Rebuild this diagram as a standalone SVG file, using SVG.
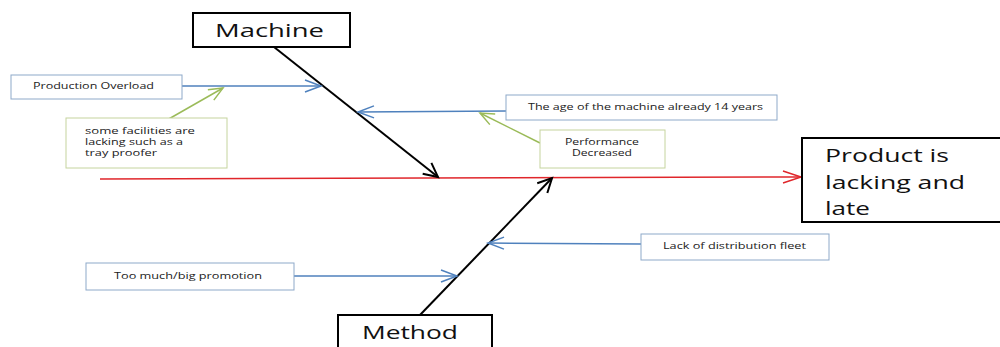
<svg xmlns="http://www.w3.org/2000/svg" width="1000" height="347" viewBox="0 0 1000 347">
  <style>
    .big { font-family: "Open Sans", "Liberation Sans", sans-serif; font-size: 19px; fill: #111; }
    .small { font-family: "Open Sans", "Liberation Sans", sans-serif; font-size: 8.5px; fill: #222; }
    .hbox { fill: #fff; stroke: #000; stroke-width: 2; }
    .cbox { fill: #fff; stroke: #8ea9c9; stroke-width: 1; }
    .gbox { fill: #fff; stroke: #c5d49e; stroke-width: 1; }
    .bone { stroke: #000; stroke-width: 2; fill: none; }
    .cause { stroke: #4f81bd; stroke-width: 1.5; fill: none; }
    .sub { stroke: #9bbb59; stroke-width: 1.5; fill: none; }
    .spine { stroke: #e0262b; stroke-width: 1.5; fill: none; }
  </style>
  <defs>
    <marker id="mBlack" markerUnits="userSpaceOnUse" markerWidth="20" markerHeight="20" refX="16" refY="8" orient="auto">
      <path d="M2,1 L16,8 L2,15" fill="none" stroke="#000" stroke-width="2"/>
    </marker>
    <marker id="mBlue" markerUnits="userSpaceOnUse" markerWidth="22" markerHeight="16" refX="18" refY="7" orient="auto">
      <path d="M2,1 L18,7 L2,13" fill="none" stroke="#4f81bd" stroke-width="1.5"/>
    </marker>
    <marker id="mGreen" markerUnits="userSpaceOnUse" markerWidth="20" markerHeight="16" refX="16" refY="7" orient="auto">
      <path d="M2,1 L16,7 L2,13" fill="none" stroke="#9bbb59" stroke-width="1.5"/>
    </marker>
    <marker id="mRed" markerUnits="userSpaceOnUse" markerWidth="24" markerHeight="16" refX="20" refY="7" orient="auto">
      <path d="M2,1 L20,7 L2,13" fill="none" stroke="#e0262b" stroke-width="1.5"/>
    </marker>
  </defs>
  <rect width="1000" height="347" fill="#fff"/>

  <!-- connectors: spine, bones, causes -->
  <g id="connectors">
    <line class="spine" x1="100" y1="179" x2="801" y2="177" marker-end="url(#mRed)"/>
    <line class="bone" x1="274" y1="47" x2="438" y2="177" marker-end="url(#mBlack)"/>
    <line class="bone" x1="420" y1="315" x2="552" y2="178" marker-end="url(#mBlack)"/>
    <line class="cause" x1="182" y1="86" x2="321" y2="86" marker-end="url(#mBlue)"/>
    <line class="cause" x1="506" y1="111" x2="358" y2="112" marker-end="url(#mBlue)"/>
    <line class="cause" x1="294" y1="276" x2="457" y2="276" marker-end="url(#mBlue)"/>
    <line class="cause" x1="641" y1="244" x2="488" y2="243" marker-end="url(#mBlue)"/>
    <line class="sub" x1="167" y1="120" x2="223" y2="88" marker-end="url(#mGreen)"/>
    <line class="sub" x1="540" y1="143" x2="480" y2="113" marker-end="url(#mGreen)"/>
  </g>

  <g id="machine">
    <rect class="hbox" x="193" y="13" width="157" height="34"/>
    <text class="big" x="215" y="37" textLength="109" lengthAdjust="spacingAndGlyphs">Machine</text>
  </g>

  <g id="method">
    <rect class="hbox" x="338" y="315" width="154" height="40"/>
    <text class="big" x="362" y="339" textLength="96" lengthAdjust="spacingAndGlyphs">Method</text>
  </g>

  <g id="effect">
    <rect class="hbox" x="802" y="138" width="210" height="84"/>
    <text class="big" x="825" y="162" textLength="124" lengthAdjust="spacingAndGlyphs">Product is</text>
    <text class="big" x="825" y="189" textLength="140" lengthAdjust="spacingAndGlyphs">lacking and</text>
    <text class="big" x="825" y="215" textLength="45" lengthAdjust="spacingAndGlyphs">late</text>
  </g>

  <g id="production-overload">
    <rect class="cbox" x="11" y="75" width="171" height="24"/>
    <text class="small" x="33" y="89" textLength="121" lengthAdjust="spacingAndGlyphs">Production Overload</text>
  </g>

  <g id="facilities">
    <rect class="gbox" x="66" y="118" width="161" height="50"/>
    <text class="small" x="85" y="134" textLength="110" lengthAdjust="spacingAndGlyphs">some facilities are</text>
    <text class="small" x="85" y="145" textLength="98" lengthAdjust="spacingAndGlyphs">lacking such as a</text>
    <text class="small" x="85" y="156" textLength="72" lengthAdjust="spacingAndGlyphs">tray proofer</text>
  </g>

  <g id="machine-age">
    <rect class="cbox" x="506" y="95" width="271" height="25"/>
    <text class="small" x="528" y="110" textLength="235" lengthAdjust="spacingAndGlyphs">The age of the machine already 14 years</text>
  </g>

  <g id="performance">
    <rect class="gbox" x="540" y="130" width="125" height="38"/>
    <text class="small" x="565" y="145" textLength="74" lengthAdjust="spacingAndGlyphs">Performance</text>
    <text class="small" x="572" y="156" textLength="60" lengthAdjust="spacingAndGlyphs">Decreased</text>
  </g>

  <g id="promotion">
    <rect class="cbox" x="86" y="263" width="208" height="27"/>
    <text class="small" x="114" y="279" textLength="148" lengthAdjust="spacingAndGlyphs">Too much/big promotion</text>
  </g>

  <g id="fleet">
    <rect class="cbox" x="641" y="234" width="188" height="26"/>
    <text class="small" x="663" y="249" textLength="143" lengthAdjust="spacingAndGlyphs">Lack of distribution fleet</text>
  </g>
</svg>
